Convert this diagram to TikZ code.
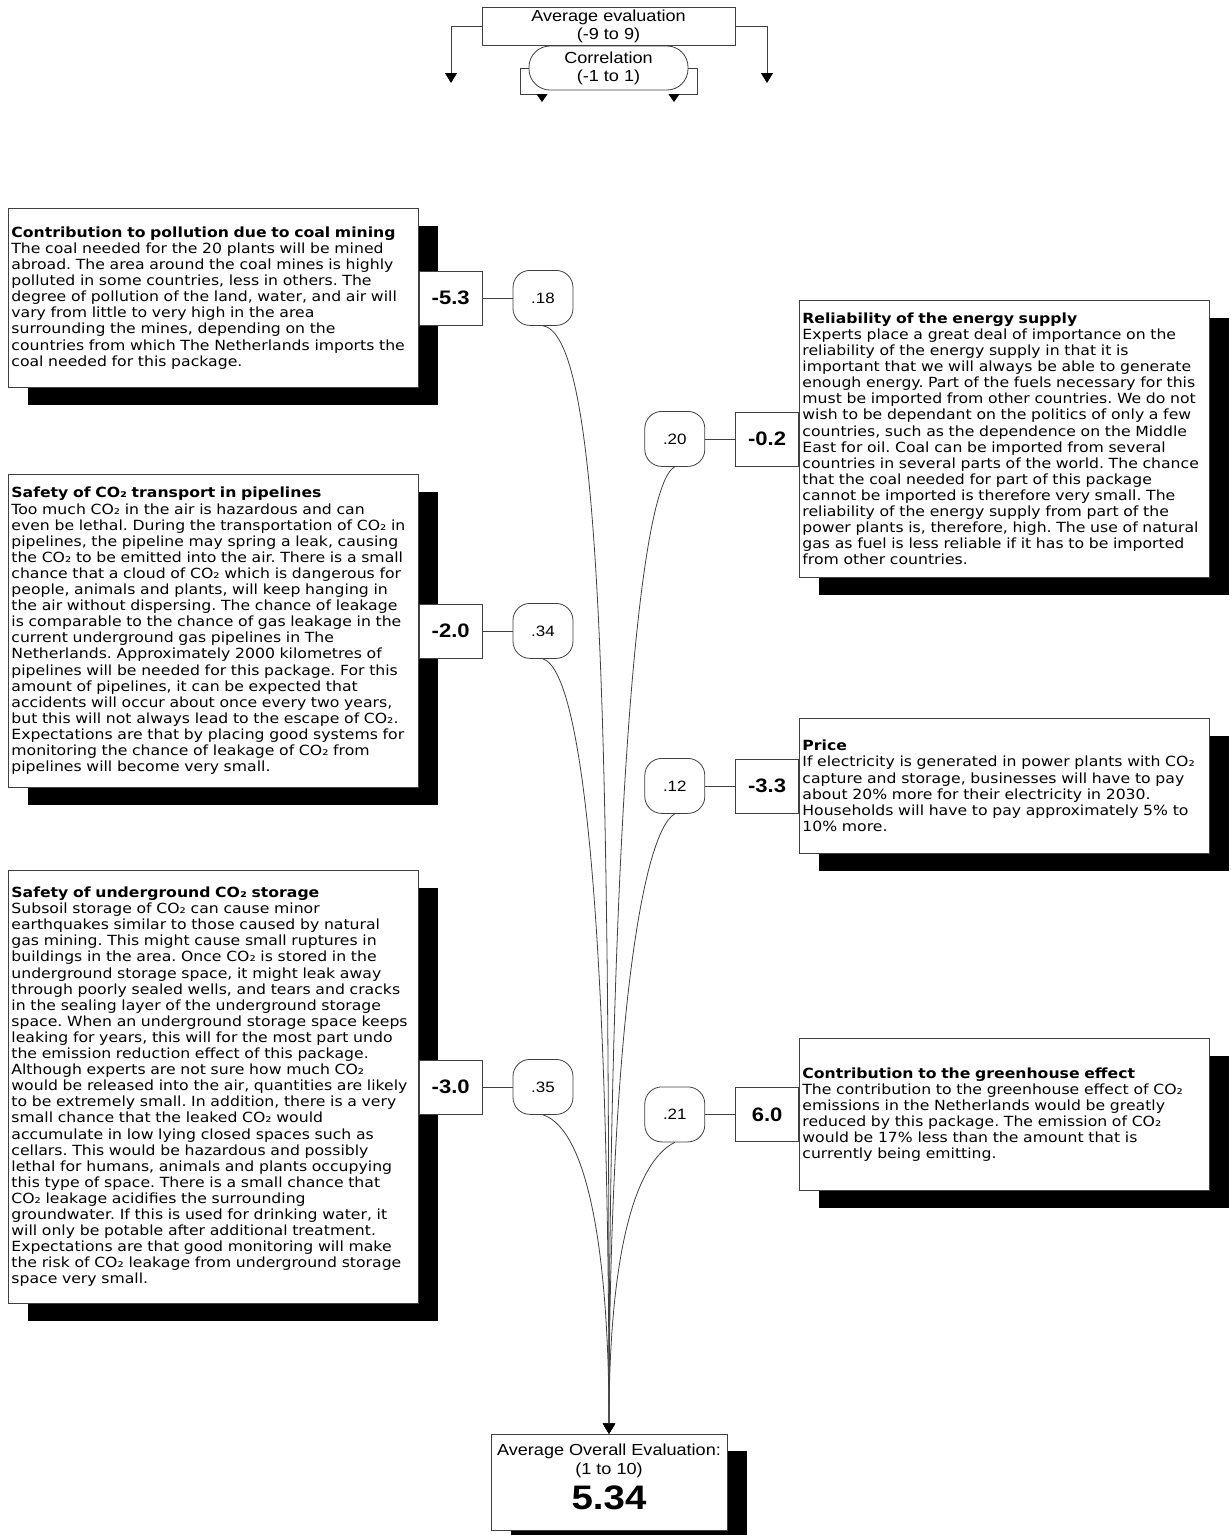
\documentclass[tikz,border=0pt]{standalone}
\usepackage{fontspec}
\setmainfont{DejaVu Sans}[FakeStretch=1.12]
\newfontfamily\arialfont{Liberation Sans}[FakeStretch=1.13]
\frenchspacing
\usetikzlibrary{positioning}
\usetikzlibrary{arrows.meta}
\usetikzlibrary{shadows}
\tikzset{
desc/.style={
  rectangle,
  draw=black!75,
  fill=white,
  line width=0.8pt,
  text width=404pt,
  inner xsep=3pt,
  inner ysep=0pt,
  align=left,
  anchor=north west,
  font=\fontsize{14}{16.1}\selectfont,
  drop shadow={shadow xshift=20pt,shadow yshift=-18pt,fill=black,opacity=1}
  },
val/.style={
  rectangle,
  draw=black!75,
  fill=white,
  line width=0.8pt,
  minimum width=63pt,
  minimum height=54pt,
  inner sep=0pt,
  font=\arialfont\bfseries\fontsize{19.5}{22}\selectfont
  },
cor/.style={
  rectangle,
  rounded corners=17pt,
  draw=black!75,
  fill=white,
  line width=0.8pt,
  minimum width=60pt,
  minimum height=55pt,
  inner sep=0pt,
  font=\arialfont\fontsize{15}{17}\selectfont
  },
lnk/.style={draw=black!75,line width=0.8pt},
tip/.style={-{Triangle[width=12pt,length=10pt,color=black]}}
}

\begin{document}
\begin{tikzpicture}[x=1pt,y=-1pt,node distance=30pt]
\useasboundingbox (0,0) rectangle (1231,1535);

% legend
\node[rectangle,draw=black!75,line width=0.8pt,minimum width=253pt,minimum height=38pt,
      inner sep=0pt,align=center,font=\arialfont\fontsize{16}{18}\selectfont]
      (avg) at (608.5,26) {Average evaluation\\(-9 to 9)};
\node[rectangle,rounded corners=21pt,draw=black!75,fill=white,line width=0.8pt,
      minimum width=159pt,minimum height=44pt,inner sep=0pt,align=center,
      font=\arialfont\fontsize{16}{18}\selectfont]
      (corr) at (608.5,68) {Correlation\\(-1 to 1)};
\coordinate (aL) at (451,83);
\coordinate (aR) at (767,83);
\coordinate (kL) at (520,94);
\coordinate (kLt) at (542,102);
\coordinate (kR) at (697,94);
\coordinate (kRt) at (674,102);
\draw[lnk,tip] (avg.west) -| (aL);
\draw[lnk,tip] (avg.east) -| (aR);
\draw[lnk,-{Triangle[width=11pt,length=8pt,color=black]}] (corr.west) -| (kL) -| (kLt);
\draw[lnk,-{Triangle[width=11pt,length=8pt,color=black]}] (corr.east) -| (kR) -| (kRt);

% left descriptions
\node[desc,minimum height=179pt] (dl1) at (8,208) {\textbf{Contribution to pollution due to coal mining}\\
The coal needed for the 20 plants will be mined\\
abroad. The area around the coal mines is highly\\
polluted in some countries, less in others. The\\
degree of pollution of the land, water, and air will\\
vary from little to very high in the area\\
surrounding the mines, depending on the\\
countries from which The Netherlands imports the\\
coal needed for this package.};

\node[desc,minimum height=313pt] (dl2) at (8,474) {\textbf{Safety of CO₂ transport in pipelines}\\
Too much CO₂ in the air is hazardous and can\\
even be lethal. During the transportation of CO₂ in\\
pipelines, the pipeline may spring a leak, causing\\
the CO₂ to be emitted into the air. There is a small\\
chance that a cloud of CO₂ which is dangerous for\\
people, animals and plants, will keep hanging in\\
the air without dispersing. The chance of leakage\\
is comparable to the chance of gas leakage in the\\
current underground gas pipelines in The\\
Netherlands. Approximately 2000 kilometres of\\
pipelines will be needed for this package. For this\\
amount of pipelines, it can be expected that\\
accidents will occur about once every two years,\\
but this will not always lead to the escape of CO₂.\\
Expectations are that by placing good systems for\\
monitoring the chance of leakage of CO₂ from\\
pipelines will become very small.};

\node[desc,minimum height=433pt] (dl3) at (8,870) {\textbf{Safety of underground CO₂ storage}\\
Subsoil storage of CO₂ can cause minor\\
earthquakes similar to those caused by natural\\
gas mining. This might cause small ruptures in\\
buildings in the area. Once CO₂ is stored in the\\
underground storage space, it might leak away\\
through poorly sealed wells, and tears and cracks\\
in the sealing layer of the underground storage\\
space. When an underground storage space keeps\\
leaking for years, this will for the most part undo\\
the emission reduction effect of this package.\\
Although experts are not sure how much CO₂\\
would be released into the air, quantities are likely\\
to be extremely small. In addition, there is a very\\
small chance that the leaked CO₂ would\\
accumulate in low lying closed spaces such as\\
cellars. This would be hazardous and possibly\\
lethal for humans, animals and plants occupying\\
this type of space. There is a small chance that\\
CO₂ leakage acidifies the surrounding\\
groundwater. If this is used for drinking water, it\\
will only be potable after additional treatment.\\
Expectations are that good monitoring will make\\
the risk of CO₂ leakage from underground storage\\
space very small.};

% right descriptions
\node[desc,minimum height=277pt] (dr1) at (799,300) {\textbf{Reliability of the energy supply}\\
Experts place a great deal of importance on the\\
reliability of the energy supply in that it is\\
important that we will always be able to generate\\
enough energy. Part of the fuels necessary for this\\
must be imported from other countries. We do not\\
wish to be dependant on the politics of only a few\\
countries, such as the dependence on the Middle\\
East for oil. Coal can be imported from several\\
countries in several parts of the world. The chance\\
that the coal needed for part of this package\\
cannot be imported is therefore very small. The\\
reliability of the energy supply from part of the\\
power plants is, therefore, high. The use of natural\\
gas as fuel is less reliable if it has to be imported\\
from other countries.};

\node[desc,minimum height=135pt] (dr2) at (799,718) {\textbf{Price}\\
If electricity is generated in power plants with CO₂\\
capture and storage, businesses will have to pay\\
about 20\% more for their electricity in 2030.\\
Households will have to pay approximately 5\% to\\
10\% more.};

\node[desc,minimum height=152pt] (dr3) at (799,1038) {\textbf{Contribution to the greenhouse effect}\\
The contribution to the greenhouse effect of CO₂\\
emissions in the Netherlands would be greatly\\
reduced by this package. The emission of CO₂\\
would be 17\% less than the amount that is\\
currently being emitting.};

% evaluations and correlations
\node[val,right=0pt of dl1] (vl1) {-5.3};
\node[val,right=0pt of dl2] (vl2) {-2.0};
\node[val,right=0pt of dl3] (vl3) {-3.0};
\node[val,left=0pt of dr1] (vr1) {-0.2};
\node[val,left=0pt of dr2] (vr2) {-3.3};
\node[val,left=0pt of dr3] (vr3) {6.0};
\node[cor,right=of vl1] (cl1) {.18};
\node[cor,right=of vl2] (cl2) {.34};
\node[cor,right=of vl3] (cl3) {.35};
\node[cor,left=of vr1] (cr1) {.20};
\node[cor,left=of vr2] (cr2) {.12};
\node[cor,left=of vr3] (cr3) {.21};

% overall
\node[rectangle,draw=black!75,fill=white,line width=0.8pt,minimum width=236pt,
      minimum height=96pt,inner sep=0pt,align=center,
      font=\arialfont\fontsize{16}{19}\selectfont,
      drop shadow={shadow xshift=20pt,shadow yshift=-17pt,fill=black,opacity=1}]
      (sum) at (609,1482) {Average Overall Evaluation:\\(1 to 10)\\[7pt]
      {\bfseries\fontsize{34}{34}\selectfont 5.34}\rule[-10pt]{0pt}{10pt}};

\path[lnk]
  (vl1) edge (cl1)
  (vl2) edge (cl2)
  (vl3) edge (cl3)
  (vr1) edge (cr1)
  (vr2) edge (cr2)
  (vr3) edge (cr3);

\draw[lnk,tip] (cl1.south) .. controls +(60,10) and +(0,-700) .. (sum.north);
\draw[lnk,tip] (cl2.south) .. controls +(45,15) and +(0,-450) .. (sum.north);
\draw[lnk,tip] (cl3.south) .. controls +(45,15) and +(0,-180) .. (sum.north);
\draw[lnk,tip] (cr1.south) .. controls +(-40,20) and +(0,-550) .. (sum.north);
\draw[lnk,tip] (cr2.south) .. controls +(-35,20) and +(0,-380) .. (sum.north);
\draw[lnk,tip] (cr3.south) .. controls +(-40,20) and +(0,-180) .. (sum.north);
\end{tikzpicture}
\end{document}
